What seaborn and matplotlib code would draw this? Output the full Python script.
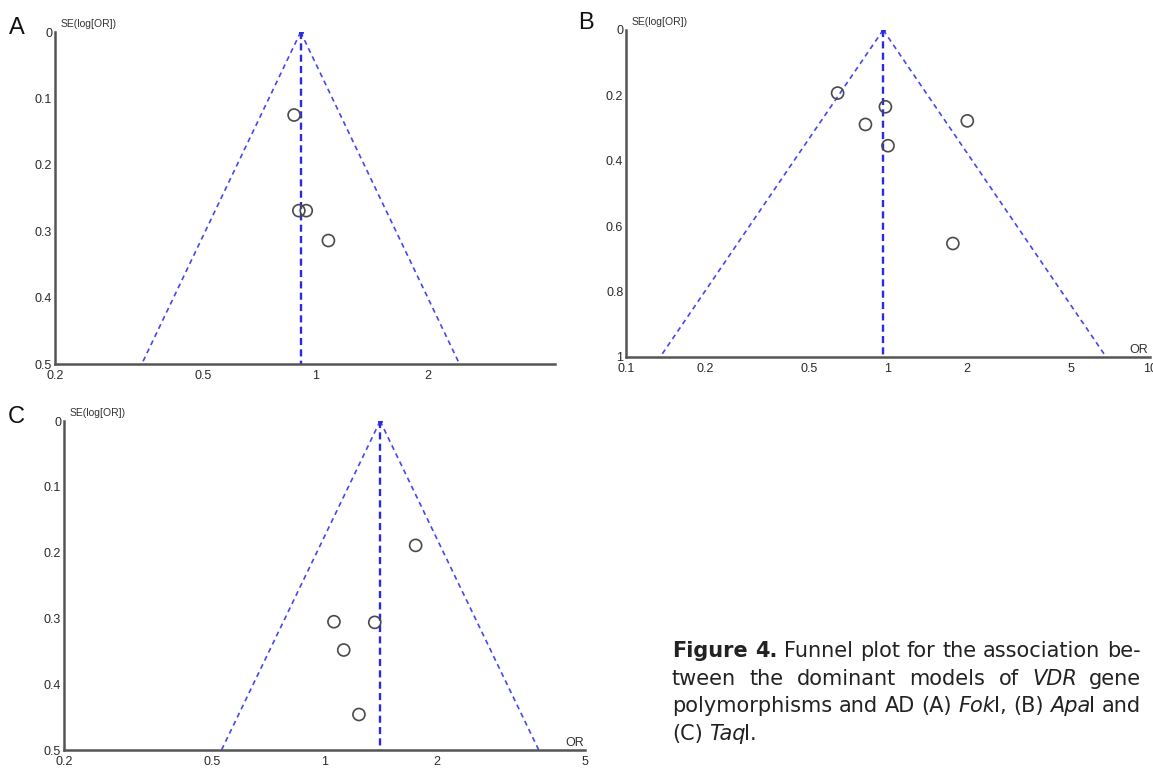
import numpy as np
import pandas as pd
import seaborn as sns
import matplotlib.pyplot as plt

# Study points (OR, SE(log[OR]))
a_or = [0.874, 0.900, 0.942, 1.08]
a_se = [0.125, 0.269, 0.269, 0.314]
a_pooled = 0.91

b_or = [0.642, 0.977, 0.820, 2.007, 1.00, 1.768]
b_se = [0.193, 0.235, 0.289, 0.278, 0.354, 0.653]
b_pooled = 0.958

c_or = [1.756, 1.06, 1.364, 1.126, 1.237]
c_se = [0.189, 0.305, 0.306, 0.348, 0.446]
c_pooled = 1.41

a_xticks = [0.2, 0.5, 1, 2]
a_xlabels = ['0.2', '0.5', '1', '2']
a_yticks = [0, 0.1, 0.2, 0.3, 0.4, 0.5]
a_ylabels = ['0', '0.1', '0.2', '0.3', '0.4', '0.5']

b_xticks = [0.1, 0.2, 0.5, 1, 2, 5, 10]
b_xlabels = ['0.1', '0.2', '0.5', '1', '2', '5', '10']
b_yticks = [0, 0.2, 0.4, 0.6, 0.8, 1]
b_ylabels = ['0', '0.2', '0.4', '0.6', '0.8', '1']

c_xticks = [0.2, 0.5, 1, 2, 5]
c_xlabels = ['0.2', '0.5', '1', '2', '5']
c_yticks = a_yticks
c_ylabels = a_ylabels

sns.set_style('white')
plt.rcParams['font.family'] = ['Liberation Sans', 'DejaVu Sans']

AXIS_COL = '#555555'
BLUE = '#4646ee'
BLUE_DARK = '#2a2ae0'

fig = plt.figure(figsize=(11.53, 7.68), dpi=100)


def funnel(rect, ors, ses, pooled, xlim, ylim, xticks, xlabels, yticks, ylabels,
           letter, letter_px, show_or):
    ax = fig.add_axes(rect)
    ymax = ylim
    se_line = np.array([0, ymax])
    # funnel limits: pooled * exp(+-1.96 SE)
    ax.plot(pooled * np.exp(-1.96 * se_line), se_line, color=BLUE, lw=1.2, dashes=(3, 2.4))
    ax.plot(pooled * np.exp(1.96 * se_line), se_line, color=BLUE, lw=1.2, dashes=(3, 2.4))
    ax.plot([pooled, pooled], [0, ymax], color=BLUE_DARK, lw=1.7, dashes=(3, 1.8))
    ax.plot([pooled], [0], marker='o', ms=2.5, color=BLUE_DARK)

    df = pd.DataFrame({'OR': ors, 'SE': ses})
    sns.scatterplot(data=df, x='OR', y='SE', ax=ax, s=75, marker='o',
                    facecolors='none', edgecolor='#4a4a4a', linewidth=1.2, zorder=5)

    ax.set_xscale('log')
    ax.set_xlim(*xlim)
    ax.set_ylim(ymax, 0)
    ax.set_xticks(xticks)
    ax.set_xticklabels(xlabels)
    ax.minorticks_off()
    ax.set_yticks(yticks)
    ax.set_yticklabels(ylabels)
    ax.set_xlabel('')
    ax.set_ylabel('')
    for side in ['top', 'right']:
        ax.spines[side].set_visible(False)
    for side in ['left', 'bottom']:
        ax.spines[side].set_color(AXIS_COL)
        ax.spines[side].set_linewidth(1.8)
    ax.tick_params(axis='both', direction='inout', length=6, width=1.3,
                   color=AXIS_COL, labelsize=9, labelcolor='#2a2a2a')
    ax.tick_params(axis='x', pad=1.5)
    ax.tick_params(axis='y', pad=-1)
    ax.patch.set_alpha(0)

    ax.annotate('SE(log[OR])', xy=(0, 1), xycoords='axes fraction',
                xytext=(4, 2), textcoords='offset points', fontsize=7.5,
                color='#333333', ha='left', va='bottom')
    if show_or:
        ax.annotate('OR', xy=(1, 0), xycoords='axes fraction',
                    xytext=(-1, 1), textcoords='offset points', fontsize=9,
                    color='#333333', ha='right', va='bottom')
    fig.text(letter_px[0] / 1153, 1 - letter_px[1] / 768, letter, fontsize=17,
             color='#111111', ha='center', va='center')
    return ax


funnel([0.0477, 0.526, 0.434, 0.4323], a_or, a_se, a_pooled, (0.2, 4.38), 0.5,
       a_xticks, a_xlabels, a_yticks, a_ylabels, 'A', (17, 28), False)
funnel([0.543, 0.5352, 0.4544, 0.4258], b_or, b_se, b_pooled, (0.1, 10), 1.0,
       b_xticks, b_xlabels, b_yticks, b_ylabels, 'B', (586, 23), True)
funnel([0.0555, 0.0234, 0.4519, 0.4284], c_or, c_se, c_pooled, (0.2, 5), 0.5,
       c_xticks, c_xlabels, c_yticks, c_ylabels, 'C', (16, 417), True)

# Caption, justified like the journal layout
caption = [
    [[('Figure', 'bold')], [('4.', 'bold')], [('Funnel', 'normal')], [('plot', 'normal')],
     [('for', 'normal')], [('the', 'normal')], [('association', 'normal')], [('be-', 'normal')]],
    [[('tween', 'normal')], [('the', 'normal')], [('dominant', 'normal')], [('models', 'normal')],
     [('of', 'normal')], [('VDR', 'italic')], [('gene', 'normal')]],
    [[('polymorphisms', 'normal')], [('and', 'normal')], [('AD', 'normal')], [('(A)', 'normal')],
     [('Fok', 'italic'), ('I,', 'normal')], [('(B)', 'normal')], [('Apa', 'italic'), ('I', 'normal')],
     [('and', 'normal')]],
    [[('(C)', 'normal')], [('Taq', 'italic'), ('I.', 'normal')]],
]

renderer = fig.canvas.get_renderer()
x0, x1 = 672, 1141
baseline_first = 657
line_gap = 27.6
cap_font = 'DejaVu Sans'


def style_kw(style, size):
    kw = dict(fontsize=size, color='#222222', va='baseline', ha='left', family=cap_font)
    if style == 'bold':
        kw['fontweight'] = 'bold'
    if style == 'italic':
        kw['fontstyle'] = 'italic'
    return kw


def measure(txt, style, size):
    t = fig.text(0, 0, txt, **style_kw(style, size))
    w = t.get_window_extent(renderer).width
    t.remove()
    if style == 'italic':
        w -= 1.5
    return w


# the third line is set with plain word spacing in the reference: size the font to fit it
ref_words = caption[2]
probe = 10.0
nat = sum(measure(txt, s, probe) for w in ref_words for txt, s in w)
space = measure('a a', 'normal', probe) - measure('aa', 'normal', probe)
cap_size = probe * (x1 - x0) / (nat + space * (len(ref_words) - 1))

for i, words in enumerate(caption):
    y = baseline_first + i * line_gap
    widths = [sum(measure(txt, style, cap_size) for txt, style in w) for w in words]
    if i < len(caption) - 1:
        gap = (x1 - x0 - sum(widths)) / (len(words) - 1)
    else:
        gap = space * cap_size / probe
    x = x0
    for w, wd in zip(words, widths):
        xx = x
        for txt, style in w:
            fig.text(xx / 1153, 1 - y / 768, txt, **style_kw(style, cap_size))
            xx += measure(txt, style, cap_size)
        x += wd + gap

fig.savefig('out.png', dpi=100)
